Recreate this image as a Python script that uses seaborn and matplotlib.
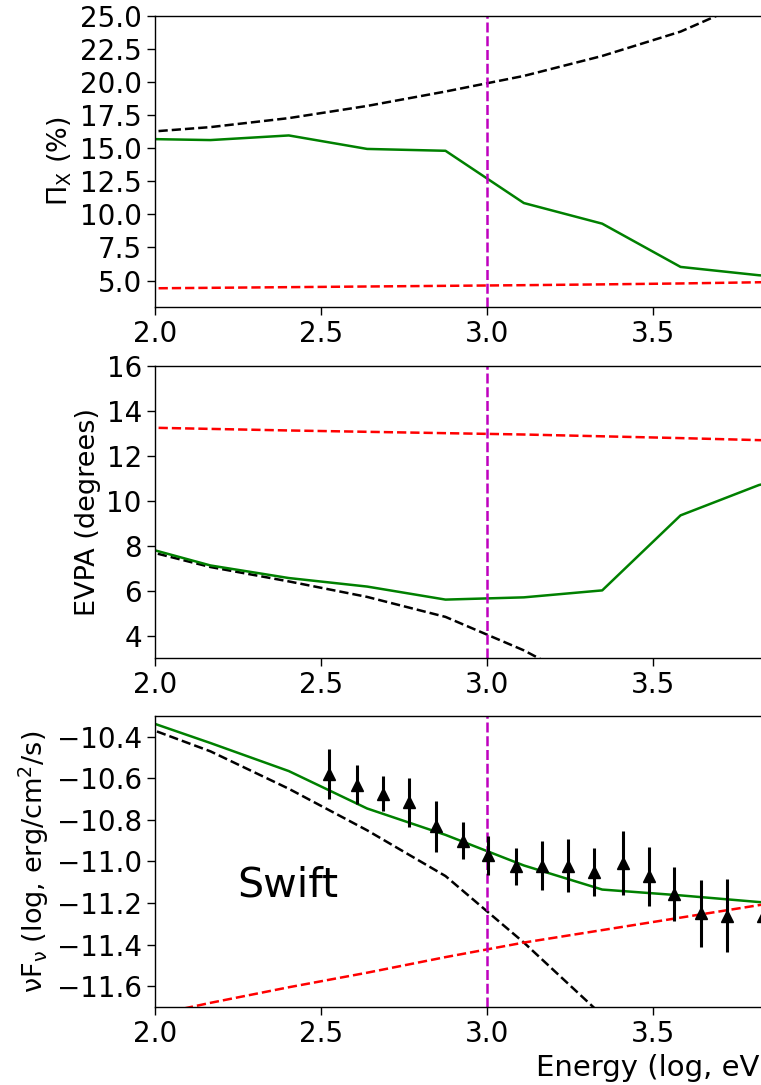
import numpy as np
import pandas as pd
import matplotlib
matplotlib.use("Agg")
import matplotlib.pyplot as plt
import seaborn as sns

# ---------------- data ----------------
energy = [1.931, 2.167, 2.403, 2.639, 2.875, 3.111, 3.347, 3.583, 3.819, 4.055]

pol_total = [15.72, 15.62, 15.97, 14.95, 14.81, 10.86, 9.30, 6.03, 5.40, 5.00]
pol_sync = [16.15, 16.60, 17.28, 18.20, 19.29, 20.47, 21.98, 23.82, 26.42, 29.50]
pol_ssc = [4.40, 4.45, 4.50, 4.55, 4.60, 4.65, 4.71, 4.78, 4.87, 4.95]

evpa_total = [8.07, 7.12, 6.56, 6.18, 5.60, 5.70, 6.01, 9.35, 10.70, 11.50]
evpa_sync = [7.93, 7.05, 6.41, 5.72, 4.83, 3.34, 1.50, -0.50, -2.50, -4.50]
evpa_ssc = [13.27, 13.20, 13.13, 13.07, 13.01, 12.95, 12.87, 12.79, 12.70, 12.62]

sed_total = [-10.30, -10.43, -10.565, -10.745, -10.872, -11.019, -11.135, -11.163, -11.195, -11.22]
sed_sync = [-10.33, -10.47, -10.65, -10.85, -11.07, -11.39, -11.74, -12.15, -12.60, -13.10]
sed_ssc = [-11.76, -11.68, -11.605, -11.535, -11.46, -11.39, -11.33, -11.27, -11.21, -11.15]

swift_x = [2.525, 2.608, 2.686, 2.766, 2.846, 2.929, 3.004, 3.087, 3.165, 3.245,
           3.323, 3.409, 3.487, 3.562, 3.645, 3.722, 3.830]
swift_y = [-10.58, -10.63, -10.675, -10.715, -10.83, -10.90, -10.97, -11.024, -11.02, -11.02,
           -11.05, -11.006, -11.07, -11.155, -11.25, -11.26, -11.26]
swift_err = [0.12, 0.092, 0.084, 0.118, 0.122, 0.088, 0.093, 0.087, 0.117, 0.129,
             0.116, 0.155, 0.142, 0.129, 0.161, 0.174, 0.15]

nu_break = 3.0
xticks = [2.0, 2.5, 3.0, 3.5]

# ---------------- style ----------------
sns.set_style("ticks")
plt.rcParams['font.family'] = ['DejaVu Sans']
plt.rcParams['mathtext.fontset'] = 'dejavusans'
for k in ('text.color', 'axes.labelcolor', 'xtick.color', 'ytick.color', 'axes.edgecolor'):
    plt.rcParams[k] = 'black'
plt.rcParams['axes.linewidth'] = 1.0

FS_TICK = 20
FS_YLAB = 19.5
FS_XLAB = 21
W, H = 761, 1085
fig = plt.figure(figsize=(W / 100, H / 100), dpi=100)

left = 155 / W
width = 996 / W
ax1 = fig.add_axes([left, (H - 307) / H, width, 291 / H])
ax2 = fig.add_axes([left, (H - 658) / H, width, 292 / H])
ax3 = fig.add_axes([left, (H - 1007) / H, width, 291 / H])

lw = 1.8
def draw(ax, tot, syn, ssc):
    df = pd.DataFrame({"E": energy, "tot": tot, "syn": syn, "ssc": ssc})
    sns.lineplot(data=df, x="E", y="syn", ax=ax, color="k", linestyle="--", lw=lw,
                 sort=False, estimator=None)
    sns.lineplot(data=df, x="E", y="ssc", ax=ax, color="r", linestyle="--", lw=lw,
                 sort=False, estimator=None)
    sns.lineplot(data=df, x="E", y="tot", ax=ax, color="g", linestyle="-", lw=lw,
                 sort=False, estimator=None)
    ax.axvline(nu_break, color="m", linestyle="--", lw=1.8, dashes=(4, 1.5))

draw(ax1, pol_total, pol_sync, pol_ssc)
draw(ax2, evpa_total, evpa_sync, evpa_ssc)
draw(ax3, sed_total, sed_sync, sed_ssc)

ax3.errorbar(swift_x, swift_y, yerr=swift_err, fmt="^", color="k", ms=8,
             elinewidth=2.2, capsize=0, zorder=5)
ax3.text(2.247, -11.167, "Swift", fontsize=29.6, ha="left", va="baseline")

for ax in (ax1, ax2, ax3):
    ax.set_xlim(2.0, 5.0)
    ax.set_xticks(xticks)
    ax.set_xticklabels([f"{t:.1f}" for t in xticks])
    ax.tick_params(labelsize=FS_TICK, length=6, width=1.0)
    ax.set_xlabel("")

ax1.set_ylim(3.0, 25.0)
ax1.set_yticks(np.arange(5.0, 25.01, 2.5))
ax1.set_ylabel(r"$\Pi_{\rm X}$ (%)", fontsize=FS_YLAB)

ax2.set_ylim(3.0, 16.0)
ax2.set_yticks([4, 6, 8, 10, 12, 14, 16])
ax2.set_ylabel("EVPA (degrees)", fontsize=FS_YLAB)

ax3.set_ylim(-11.7, -10.3)
ax3.set_yticks([-11.6, -11.4, -11.2, -11.0, -10.8, -10.6, -10.4])
ax3.set_ylabel(r"$\mathrm{\nu F_{\nu}}$ (log, erg/cm$^2$/s)", fontsize=FS_YLAB)
ax3.set_xlabel("Energy (log, eV)", fontsize=FS_XLAB)

fig.savefig("out.png", dpi=100)
